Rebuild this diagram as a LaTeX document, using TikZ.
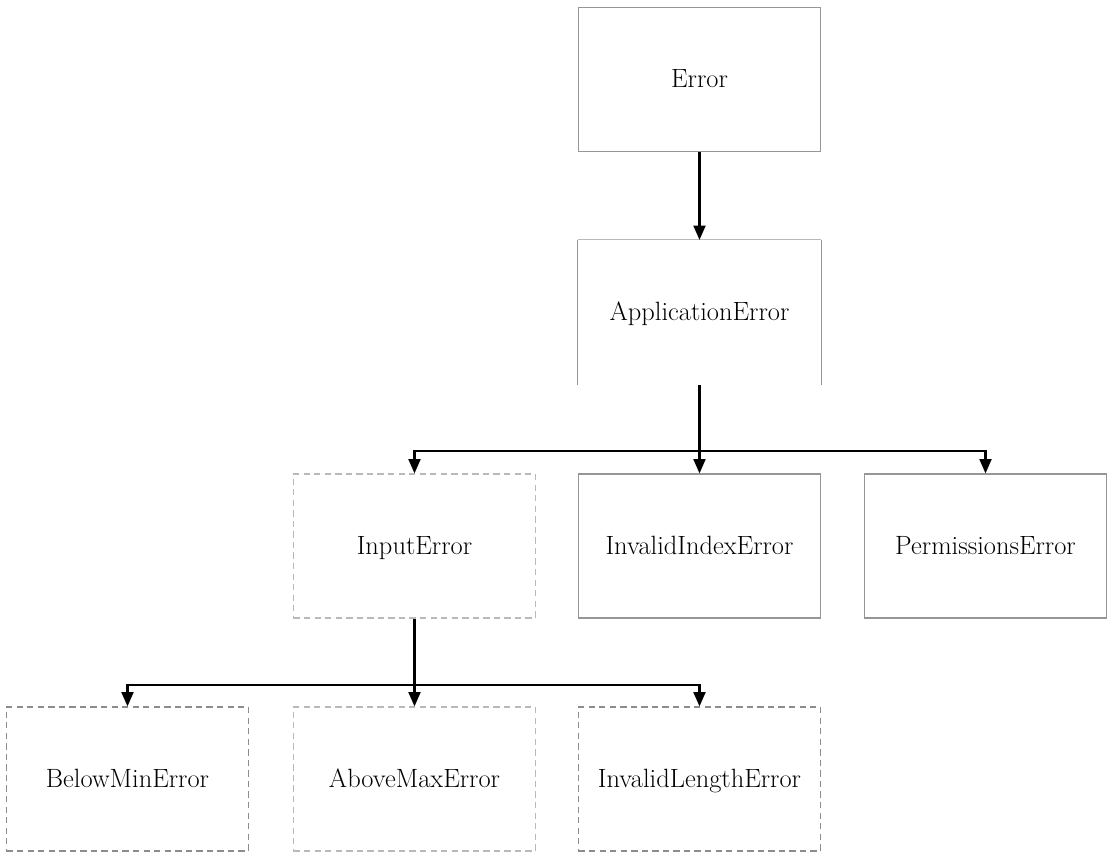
\documentclass[tikz,border=0pt]{standalone}
\usepackage{tikz}
\usetikzlibrary{arrows.meta}
\definecolor{boxgrey}{RGB}{150,150,150}
\definecolor{dashgrey}{RGB}{140,140,140}
\definecolor{lightgrey}{RGB}{185,185,185}

\begin{document}
\begin{tikzpicture}[>={Triangle[length=0.36cm, width=0.3cm]}, x=0.025cm, y=-0.025cm,
  box/.style={draw=boxgrey, line width=0.8pt, minimum width=6.05cm, minimum height=3.6cm,
    inner sep=0pt, text height=14pt, text depth=2pt, font=\fontsize{18.8}{22}\selectfont},
  dashbox/.style={box, draw=dashgrey, dash pattern=on 4.5pt off 3pt},
  lightbox/.style={box, draw=lightgrey, dash pattern=on 4.5pt off 3pt},
  link/.style={->, line width=1.5pt}]

\useasboundingbox (0,0) rectangle (1107,852);

% top of the tree
\node[box] (err) at (699.5,79.5) {Error};
\node[box, draw=none] (app) at (699.5,312.5) {ApplicationError};
\draw[boxgrey, line width=0.8pt] (app.south west) -- (app.north west);
\draw[lightgrey, line width=0.8pt] (app.north west) -- (app.north east);
\draw[boxgrey, line width=0.8pt] (app.north east) -- (app.south east);

% second row
\node[lightbox] (inp) at (414.5,546) {InputError};
\node[box] (idx) at (699.5,546) {InvalidIndexError};
\node[box] (perm) at (985.5,546) {PermissionsError};

% third row
\node[dashbox] (below) at (127.5,779) {BelowMinError};
\node[lightbox] (above) at (414.5,779) {AboveMaxError};
\node[dashbox] (len) at (699.5,779) {InvalidLengthError};

\coordinate (fork1) at (699.5,451);
\coordinate (fork2) at (414.5,685);

\draw[link] (err) -- (app);
\draw[link] (app.south) -- (idx.north);
\draw[link] (fork1) -| (inp.north);
\draw[link] (fork1) -| (perm.north);
\draw[link] (inp.south) -- (above.north);
\draw[link] (fork2) -| (below.north);
\draw[link] (fork2) -| (len.north);
\end{tikzpicture}
\end{document}
